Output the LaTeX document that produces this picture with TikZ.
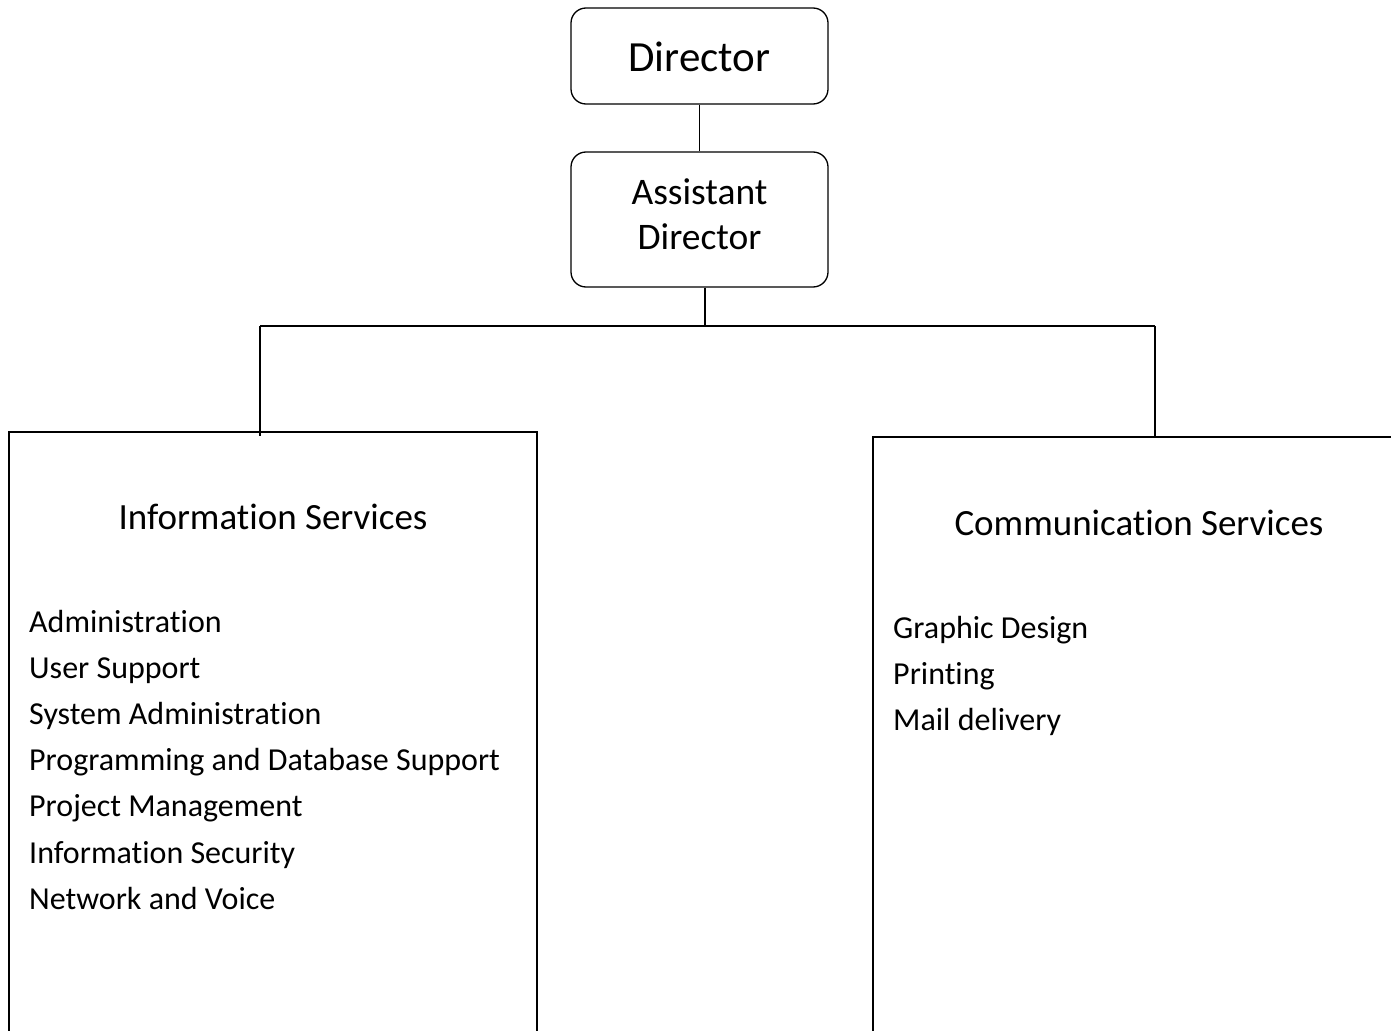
\documentclass[tikz,border=0pt]{standalone}
\usepackage{fontspec}
\setmainfont{Carlito}[Ligatures=CommonOff]
\begin{document}
\begin{tikzpicture}[x=1pt,y=-1pt,
  rbox/.style={draw,line width=1.3pt,rounded corners=15pt,minimum width=257pt,inner sep=0pt},
  dept/.style={draw,line width=1.3pt,inner sep=0pt},
  conn/.style={line width=1.3pt},
  txt/.style={inner sep=0pt,anchor=base west,font=\fontsize{32}{38}\selectfont},
  head/.style={inner sep=0pt,anchor=base,font=\fontsize{37}{44}\selectfont}]
\useasboundingbox (0,0) rectangle (1391,1030);
\clip (0,0) rectangle (1391,1030);
\node[rbox,minimum height=96pt] (dir) at (699.5,56) {};
\node[inner sep=0pt,anchor=base,font=\fontsize{43}{50}\selectfont] (dirt) at (699.5,72) {Director};
\node[rbox,minimum height=135pt] (asst) at (699.5,219.5) {};
\node[inner sep=0pt,anchor=base,font=\fontsize{37.5}{45}\selectfont] (asst1) at (699.5,204) {Assistant};
\node[inner sep=0pt,anchor=base,font=\fontsize{37.5}{45}\selectfont] (asst2) at (699.5,249) {Director};
\node[dept,minimum width=528pt,minimum height=640pt] (info) at (273,752) {};
\node[dept,minimum width=540pt,minimum height=640pt] (comm) at (1143,757) {};
\coordinate (busM) at (705,326);
\coordinate (busL) at (260,326);
\coordinate (busR) at (1155,326);
\draw[conn] (dir.south) -- (asst.north);
\draw[conn] (asst.south -| busM) -- (busM);
\draw[conn] (busL) -- (busR);
\draw[conn] (busL) -- ([yshift=-5pt]busL |- info.north);
\draw[conn] (busR) -- (busR |- comm.north);
\node[head] (infoh) at (273,529) {Information Services};
\node[txt] (i1) at (29,632) {Administration};
\node[txt] (i2) at (29,678) {User Support};
\node[txt] (i3) at (29,724) {System Administration};
\node[txt] (i4) at (29,770) {Programming and Database Support};
\node[txt] (i5) at (29,816) {Project Management};
\node[txt] (i6) at (29,863) {Information Security};
\node[txt] (i7) at (29,909) {Network and Voice};
\node[head] (commh) at (1139,535) {Communication Services};
\node[txt] (c1) at (893,638) {Graphic Design};
\node[txt] (c2) at (893,684) {Printing};
\node[txt] (c3) at (893,730) {Mail delivery};
\end{tikzpicture}
\end{document}
